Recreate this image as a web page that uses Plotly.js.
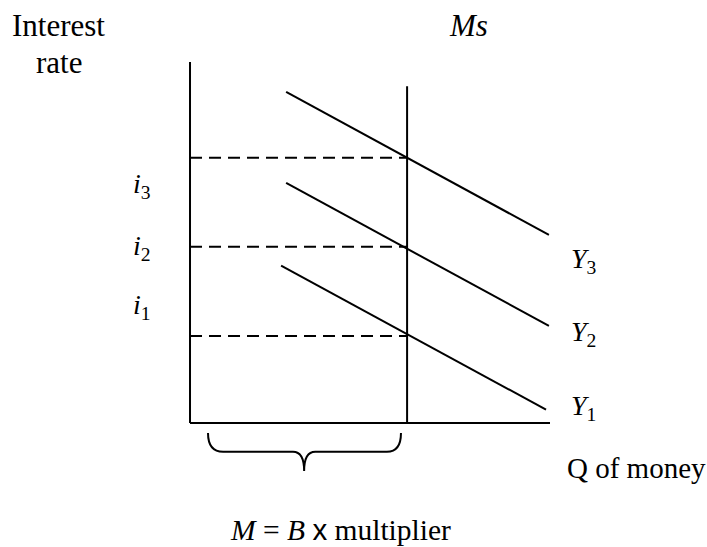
<!DOCTYPE html>
<html>
<head>
<meta charset="utf-8">
<script src="https://cdn.plot.ly/plotly-3.0.1.min.js"></script>
<style>
  body { margin: 0; background: #fff; }
  #chart { width: 707px; height: 547px; }
</style>
</head>
<body>
<div id="chart"></div>
<script>
// money market: interest rate vs quantity of money
var axisMax = 10;
var moneySupply = 6.03;
var moneySupplyTop = 9.33;

var rates = [2.41, 4.88, 7.35];
var rateLabels = ['<i>i</i><sub>1</sub>', '<i>i</i><sub>2</sub>', '<i>i</i><sub>3</sub>'];
var rateLabelY = [3.24, 4.85, 6.59];

var demandStartX = [2.53, 2.67, 2.67];
var demandStartY = [4.36, 6.65, 9.17];
var demandEndX = [9.89, 9.97, 9.97];
var demandEndY = [0.37, 2.69, 5.21];
var demandLabels = ['<i>Y</i><sub>1</sub>', '<i>Y</i><sub>2</sub>', '<i>Y</i><sub>3</sub>'];
var demandLabelY = [0.44, 2.47, 4.49];

// brace under the money supply
var braceLeft = 0.5, braceRight = 5.86, braceTip = 3.17;
var braceTop = -0.28, braceMid = -0.80, braceBottom = -1.33;

var black = '#000';
var font = 'Liberation Serif, Times New Roman, serif';

function seg(x, y, dash) {
    return {
        x: x, y: y, type: 'scatter', mode: 'lines', hoverinfo: 'skip',
        line: {color: black, width: 2, dash: dash || 'solid'}
    };
}

var data = [];
data.push(seg([0, 0], [axisMax, 0]));
data.push(seg([0, axisMax], [0, 0]));
data.push(seg([moneySupply, moneySupply], [0, moneySupplyTop]));
for (var i = 0; i < rates.length; i++) {
    data.push(seg([0, moneySupply], [rates[i], rates[i]], '12px,7px'));
    data.push(seg([demandStartX[i], demandEndX[i]], [demandStartY[i], demandEndY[i]]));
}

var annotations = [];
function label(text, x, y, xanchor, size) {
    annotations.push({
        text: text, x: x, y: y, xref: 'x', yref: 'y', showarrow: false,
        xanchor: xanchor || 'center', yanchor: 'middle',
        font: {family: font, size: size || 31, color: black}
    });
}
label('Interest', -3.64, 11.01);
label('rate', -3.64, 9.99);
label('<i>Ms</i>', 7.74, 11.01);
for (var j = 0; j < rates.length; j++) {
    label(rateLabels[j], -1.64, rateLabelY[j], 'left', 28);
    label(demandLabels[j], 10.53, demandLabelY[j], 'left', 28);
}
label('Q of money', 10.42, -1.25, 'left', 29);
label('<i>M</i> = <i>B</i> <span style="font-family:Liberation Sans">x</span> multiplier', 4.17, -2.95, 'center', 29.5);

var bracePath = 'M ' + braceLeft + ',' + braceTop +
    ' Q ' + braceLeft + ',' + braceMid + ' ' + (braceLeft + 0.42) + ',' + braceMid +
    ' L ' + (braceTip - 0.31) + ',' + braceMid +
    ' Q ' + braceTip + ',' + braceMid + ' ' + braceTip + ',' + braceBottom +
    ' Q ' + braceTip + ',' + braceMid + ' ' + (braceTip + 0.31) + ',' + braceMid +
    ' L ' + (braceRight - 0.39) + ',' + braceMid +
    ' Q ' + braceRight + ',' + braceMid + ' ' + braceRight + ',' + braceTop;

var layout = {
    width: 707, height: 547,
    margin: {l: 0, r: 0, t: 0, b: 0},
    paper_bgcolor: '#fff', plot_bgcolor: '#fff',
    showlegend: false,
    xaxis: {range: [-5.278, 14.361], visible: false, fixedrange: true},
    yaxis: {range: [-3.435, 11.717], visible: false, fixedrange: true},
    annotations: annotations,
    shapes: [{type: 'path', xref: 'x', yref: 'y', path: bracePath,
              line: {color: black, width: 2}}]
};

Plotly.newPlot('chart', data, layout, {displayModeBar: false});
</script>
</body>
</html>
